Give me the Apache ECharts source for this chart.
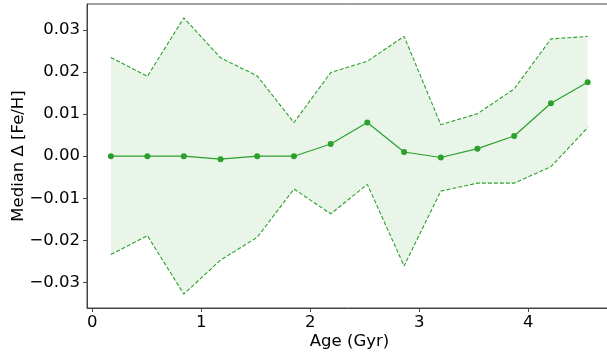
<!DOCTYPE html>
<html>
<head>
<meta charset="utf-8">
<script src="https://cdn.jsdelivr.net/npm/echarts@6/dist/echarts.min.js"></script>
<style>html,body{margin:0;padding:0;background:#fff;}#c{width:607px;height:356px;}</style>
</head>
<body>
<div id="c"></div>
<script>
const ages = [0.171, 0.506, 0.840, 1.177, 1.513, 1.850, 2.187, 2.523, 2.860, 3.197, 3.533, 3.870, 4.207, 4.544];
const median = [0.0, 0.0, 0.0, -0.0007, 0.0, 0.0, 0.0029, 0.0080, 0.0010, -0.0003, 0.0018, 0.0048, 0.0126, 0.0176];
const upper = [0.0235, 0.0190, 0.0329, 0.0234, 0.0191, 0.0080, 0.0199, 0.0226, 0.0285, 0.0075, 0.0101, 0.0160, 0.0279, 0.0285];
const lower = [-0.0234, -0.0189, -0.0328, -0.0247, -0.0193, -0.0078, -0.0137, -0.0067, -0.0261, -0.0083, -0.0064, -0.0064, -0.0025, 0.0068];
const xTicks = [0, 1, 2, 3, 4];
const yTicks = [-0.03, -0.02, -0.01, 0.0, 0.01, 0.02, 0.03];

const green = '#2ca02c';
const font = 'DejaVu Sans';
const axisColor = '#444';

const chart = echarts.init(document.getElementById('c'), null, {renderer: 'canvas'});
chart.setOption({
  animation: false,
  grid: {left: 87, top: 4, width: 525, height: 304, outerBoundsMode: 'none', containLabel: false,
    show: true, borderColor: axisColor, borderWidth: 1, backgroundColor: 'transparent'},
  xAxis: {
    type: 'value', min: -0.048, max: 4.767,
    name: 'Age (Gyr)', nameLocation: 'middle', nameGap: 25, nameMoveOverlap: false,
    nameTextStyle: {fontFamily: font, fontSize: 16.5, color: '#000'},
    axisLine: {show: true, onZero: false, lineStyle: {color: axisColor, width: 1}},
    axisTick: {show: true, length: 4, customValues: xTicks, lineStyle: {color: axisColor}},
    axisLabel: {customValues: xTicks, fontFamily: font, fontSize: 16.5, color: '#000', margin: 6, formatter: v => String(v)},
    splitLine: {show: false}
  },
  yAxis: {
    type: 'value', min: -0.0361, max: 0.0362,
    name: 'Median Δ [Fe/H]', nameLocation: 'middle', nameGap: 60, nameMoveOverlap: false,
    nameTextStyle: {fontFamily: font, fontSize: 16.5, color: '#000'},
    axisLine: {show: true, onZero: false, lineStyle: {color: axisColor, width: 1}},
    axisTick: {show: true, length: 4, customValues: yTicks, lineStyle: {color: axisColor}},
    axisLabel: {customValues: yTicks, fontFamily: font, fontSize: 16.5, color: '#000', margin: 7,
      formatter: v => (v < -1e-9 ? '\u2212' : '') + Math.abs(v).toFixed(2)},
    splitLine: {show: false}
  },
  series: [
    {
      type: 'custom',
      renderItem: function (params, api) {
        if (params.dataIndex !== 0) return null;
        const pts = [];
        for (let i = 0; i < ages.length; i++) pts.push(api.coord([ages[i], upper[i]]));
        for (let i = ages.length - 1; i >= 0; i--) pts.push(api.coord([ages[i], lower[i]]));
        return {type: 'polygon', shape: {points: pts}, style: {fill: 'rgba(44,160,44,0.11)', stroke: 'none'}, silent: true};
      },
      data: ages.map((a, i) => [a, upper[i]]),
      z: 1
    },
    {
      type: 'line', symbol: 'none',
      data: ages.map((a, i) => [a, lower[i]]),
      lineStyle: {color: green, width: 1.1, type: [4, 2]},
      z: 2
    },
    {
      type: 'line', symbol: 'none',
      data: ages.map((a, i) => [a, upper[i]]),
      lineStyle: {color: green, width: 1.1, type: [4, 2]},
      z: 2
    },
    {
      type: 'line', symbol: 'circle', symbolSize: 6,
      data: ages.map((a, i) => [a, median[i]]),
      lineStyle: {color: green, width: 1.2},
      itemStyle: {color: green},
      z: 3
    }
  ]
});
</script>
</body>
</html>
